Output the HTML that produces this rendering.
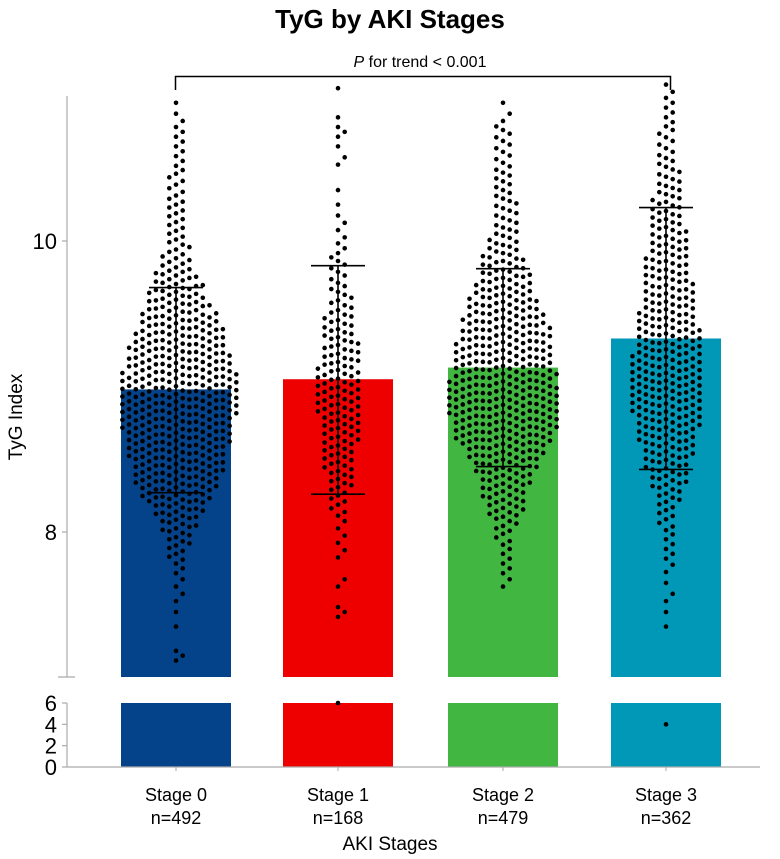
<!DOCTYPE html>
<html><head><meta charset="utf-8">
<style>
html,body{margin:0;padding:0;background:#fff;}
svg{display:block;font-family:"Liberation Sans",Arial,sans-serif;}
</style></head>
<body>
<svg id="chart" width="780" height="859" viewBox="0 0 780 859" xmlns="http://www.w3.org/2000/svg">
<text x="390" y="28" text-anchor="middle" font-size="26" font-weight="bold">TyG by AKI Stages</text>
<text x="420" y="67" text-anchor="middle" font-size="16"><tspan font-style="italic">P</tspan> for trend &lt; 0.001</text>
<path d="M175.5 90 V76.5 H670.5 V90" fill="none" stroke="#000" stroke-width="1.5"/>
<g id="bars"></g>
<g id="errs"></g>
<g id="dots"></g>
<g id="axes"></g>
<text transform="translate(22,417) rotate(-90)" text-anchor="middle" font-size="19">TyG Index</text>
<text x="390" y="850" text-anchor="middle" font-size="19">AKI Stages</text>
</svg>
<script>
const categories = ["Stage 0","Stage 1","Stage 2","Stage 3"];
const nLabels = ["n=492","n=168","n=479","n=362"];
const means = [8.98, 9.05, 9.13, 9.33];
const sdUpper = [9.68, 9.83, 9.81, 10.23];
const sdLower = [8.27, 8.26, 8.45, 8.43];
const colors = ["#044289","#ee0000","#41b641","#0098b6"];
const yTicksUpper = [8, 10];
const yTicksLower = [0, 2, 4, 6];
// histogram bins (start of 0.1-wide bins) and dot counts per stage
const binStarts = [7.0,7.1,7.2,7.3,7.4,7.5,7.6,7.7,7.8,7.9,8.0,8.1,8.2,8.3,8.4,8.5,8.6,8.7,8.8,8.9,9.0,9.1,9.2,9.3,9.4,9.5,9.6,9.7,9.8,9.9,10.0,10.1,10.2,10.3,10.4,10.5,10.6,10.7,10.8,10.9,11.0];
const counts0 = [0,3,0,1,1,2,2,3,5,7,10,14,20,24,26,28,30,32,34,34,33,30,28,25,22,18,15,12,8,6,5,5,5,4,4,3,3,3,2,1,0];
const counts1 = [0,0,0,0,3,0,2,0,2,2,2,4,5,7,8,9,10,11,12,12,12,11,10,9,8,6,5,4,4,3,2,2,1,1,0,2,1,3,1,0,1];
const counts2 = [0,0,0,0,0,0,2,3,3,4,6,10,12,14,18,22,28,30,32,32,30,28,27,25,23,20,17,14,12,9,7,6,6,5,5,4,4,4,2,1,0];
const counts3 = [0,0,0,1,1,2,1,2,3,3,4,5,7,10,12,14,16,18,20,21,21,20,19,18,17,15,14,13,12,11,10,9,8,7,6,5,4,4,3,3,2];
const allCounts = [counts0, counts1, counts2, counts3];
// low-range points shown in lower (broken) panel
const lowStage = [1, 3];
const lowValue = [6, 4];

const NS = "http://www.w3.org/2000/svg";
const centers = [176, 338, 503, 666];
const barW = 110;
function yU(v){ return 532 - (v - 8) * 145.5; }
function yL(v){ return 767 - v * (64/6); }
const upperBottom = 677, upperTop = 96, lowerTop = 703, lowerBottom = 767;
function mk(tag, attrs, parent){
  const e = document.createElementNS(NS, tag);
  for (const k in attrs) e.setAttribute(k, attrs[k]);
  parent.appendChild(e); return e;
}
const gB = document.getElementById("bars"), gE = document.getElementById("errs"),
      gD = document.getElementById("dots"), gA = document.getElementById("axes");

categories.forEach((c, i) => {
  const cx = centers[i];
  let r = mk("rect", {x: cx - barW/2, y: yU(means[i]), width: barW, height: upperBottom - yU(means[i]), fill: colors[i]}, gB);
  
  
  let r2 = mk("rect", {x: cx - barW/2, y: lowerTop, width: barW, height: lowerBottom - lowerTop, fill: colors[i]}, gB);
  
  
  const eg = mk("g", {stroke: "#000", "stroke-width": 1.6}, gE);
  
  
  mk("line", {x1: cx, x2: cx, y1: yU(sdUpper[i]), y2: yU(sdLower[i])}, eg);
  mk("line", {x1: cx - 27, x2: cx + 27, y1: yU(sdUpper[i]), y2: yU(sdUpper[i])}, eg);
  mk("line", {x1: cx - 27, x2: cx + 27, y1: yU(sdLower[i]), y2: yU(sdLower[i])}, eg);
  const t = mk("text", {x: cx, y: 801, "text-anchor": "middle", "font-size": 18}, gA);
  t.textContent = c;
  
  
  const t2 = mk("text", {x: cx, y: 824, "text-anchor": "middle", "font-size": 18}, gA);
  t2.textContent = nLabels[i];
  
  
  const tk = mk("line", {x1: cx, x2: cx, y1: lowerBottom, y2: lowerBottom + 4, stroke: "#aaa", "stroke-width": 1}, gA);
  
  

  const vals = [];
  allCounts[i].forEach((n, b) => {
    for (let k = 0; k < n; k++) vals.push(binStarts[b] + (k + 0.5) / n * 0.1);
  });
  vals.sort((a, b) => a - b);
  const colW = 6.7, minDy = 7.6;
  const placed = {};
  vals.forEach(v => {
    const py = yU(v);
    for (let s = 0; s < 60; s++) {
      const col = s === 0 ? 0 : (s % 2 ? (s + 1) / 2 : -s / 2);
      const arr = placed[col] || (placed[col] = []);
      if (arr.every(q => Math.abs(q - py) >= minDy)) {
        arr.push(py);
        const d = mk("circle", {cx: cx + col * colW, cy: py, r: 2.3, fill: "#000"}, gD);
        
        
        break;
      }
    }
  });
});
lowStage.forEach((s, k) => {
  const d = mk("circle", {cx: centers[s], cy: yL(lowValue[k]), r: 2.3, fill: "#000"}, gD);
  
  
});

const ax = mk("g", {stroke: "#aaa", "stroke-width": 1.2}, gA);


mk("line", {x1: 67, x2: 67, y1: upperTop, y2: upperBottom}, ax);
mk("line", {x1: 58, x2: 75, y1: upperBottom, y2: upperBottom}, ax);
mk("line", {x1: 67, x2: 67, y1: lowerTop, y2: lowerBottom}, ax);
mk("line", {x1: 67, x2: 760, y1: lowerBottom, y2: lowerBottom}, ax);
yTicksUpper.forEach(v => {
  mk("line", {x1: 62, x2: 67, y1: yU(v), y2: yU(v)}, ax);
  const t = mk("text", {x: 57, y: yU(v) + 8, "text-anchor": "end", "font-size": 22}, gA);
  t.textContent = v;
  
  
});
yTicksLower.forEach(v => {
  mk("line", {x1: 62, x2: 67, y1: yL(v), y2: yL(v)}, ax);
  const t = mk("text", {x: 57, y: yL(v) + 8, "text-anchor": "end", "font-size": 22}, gA);
  t.textContent = v;
  
  
});
</script>
</body></html>
